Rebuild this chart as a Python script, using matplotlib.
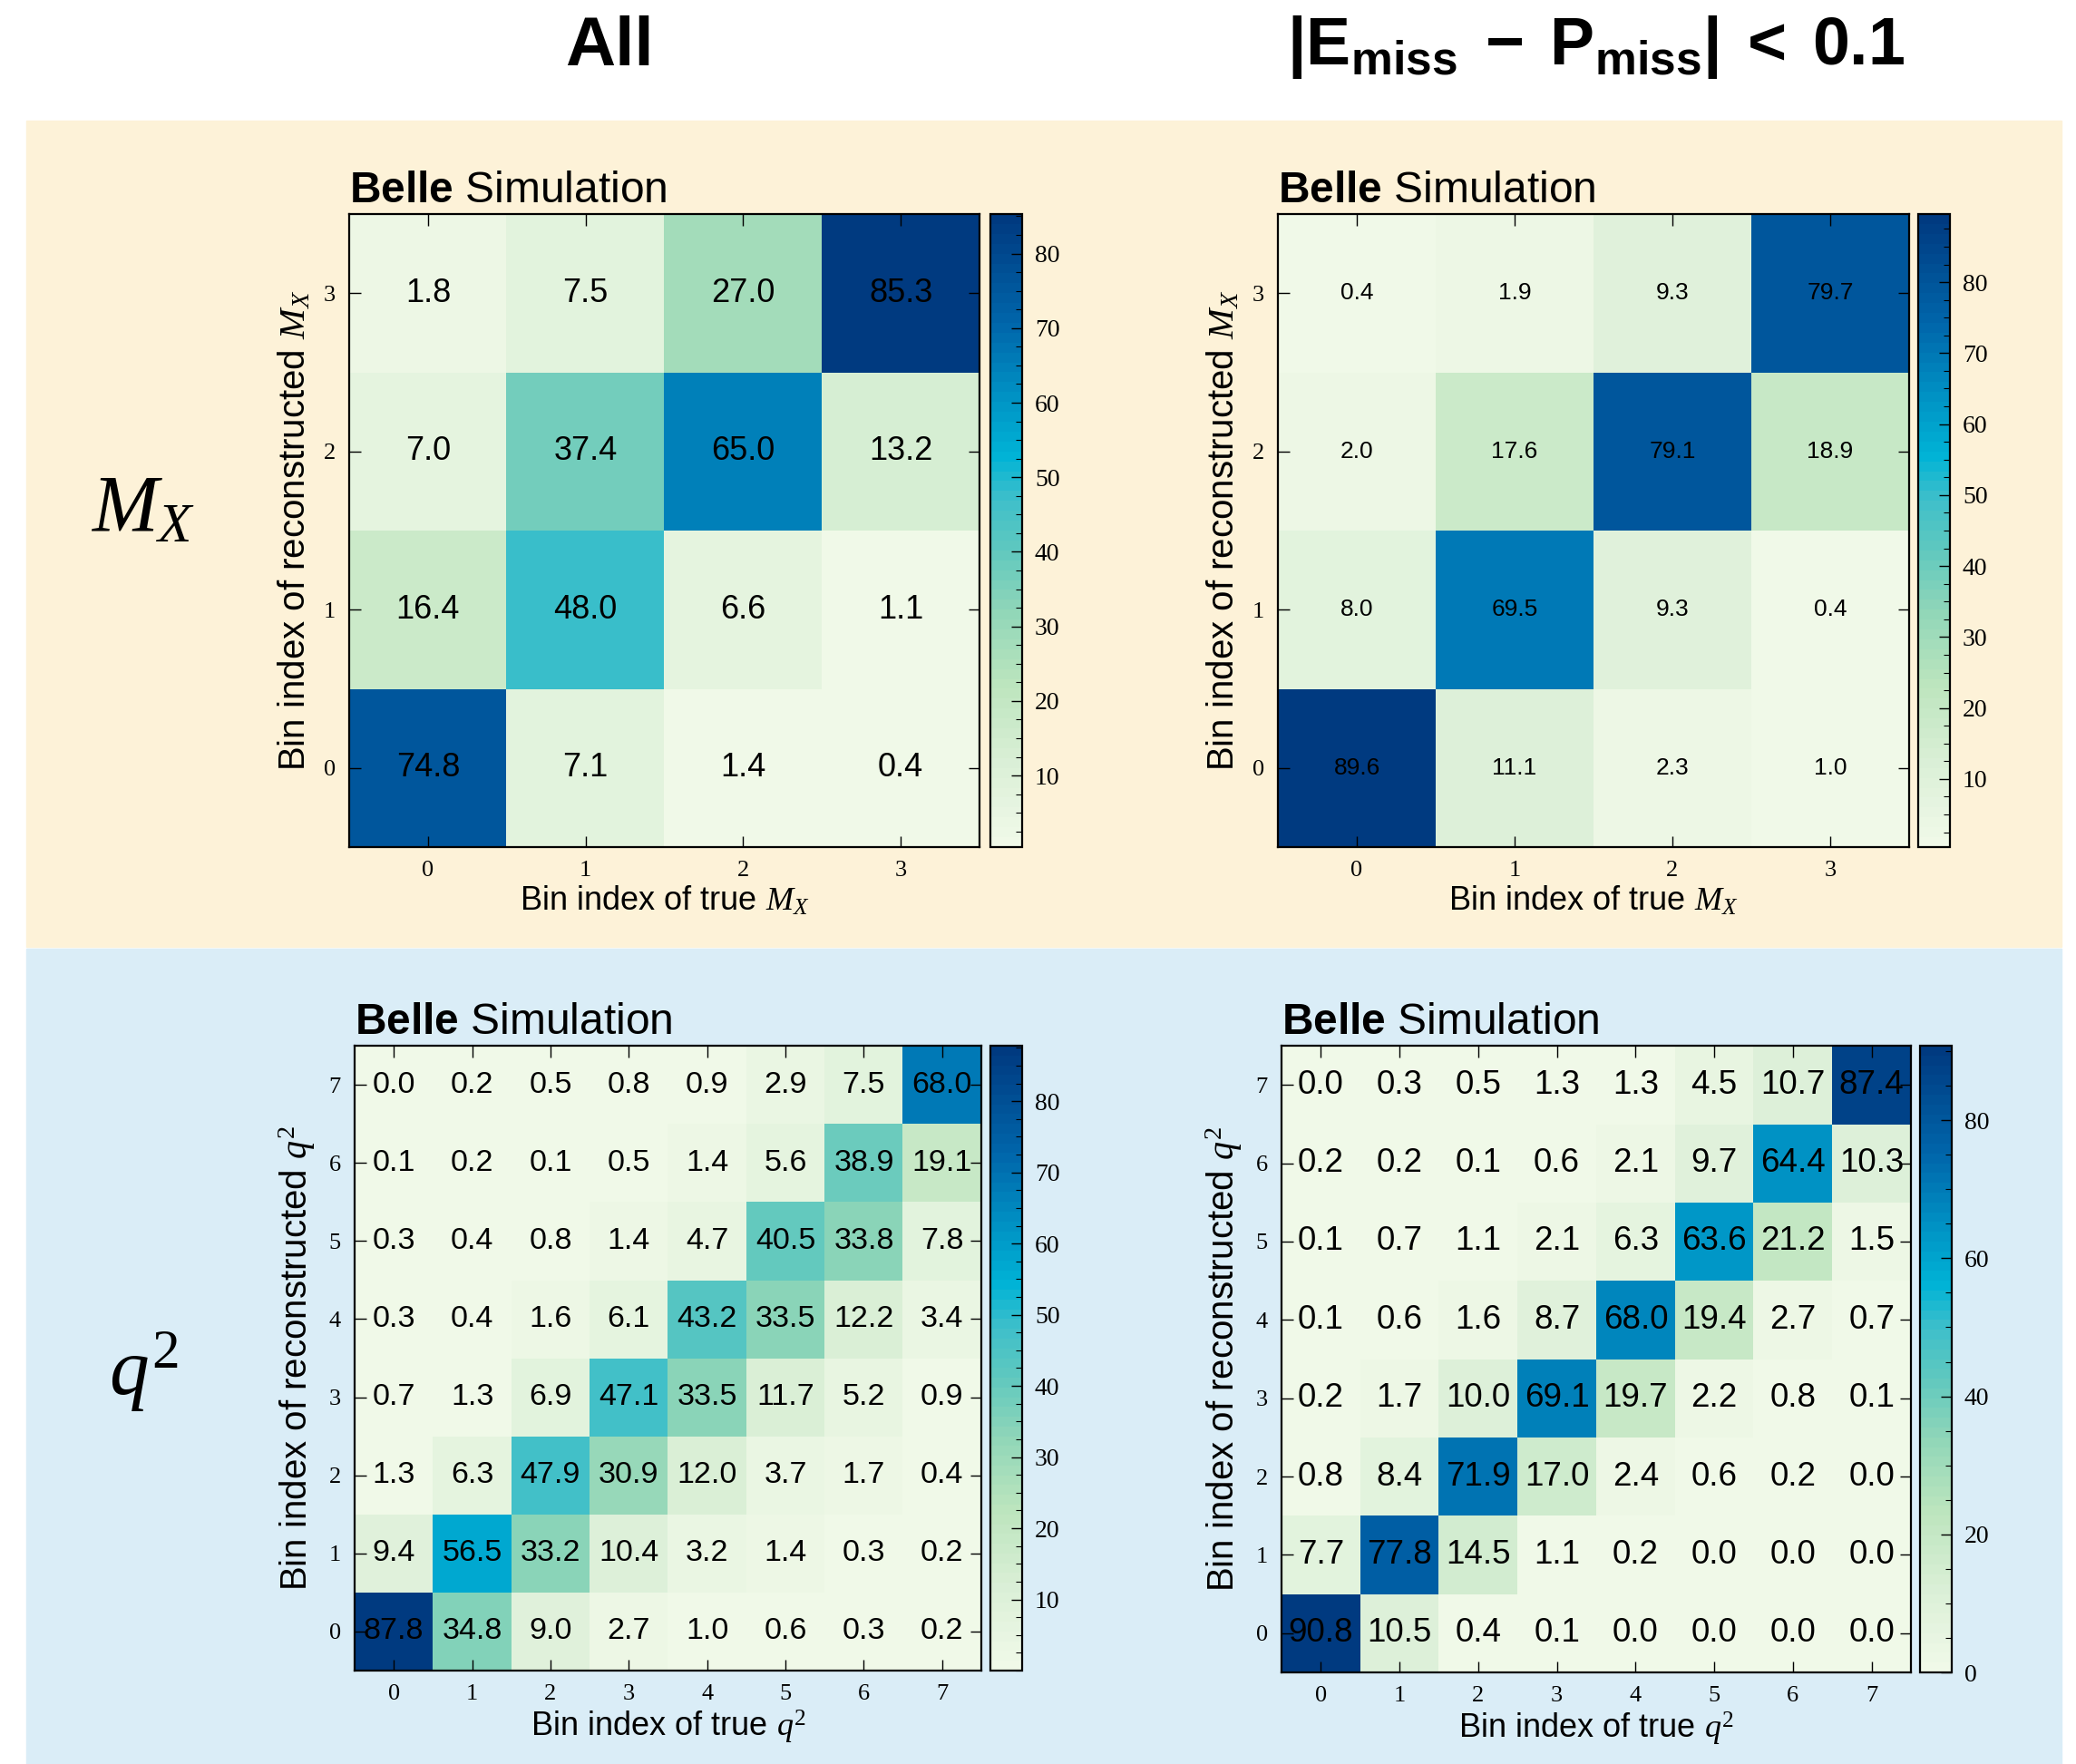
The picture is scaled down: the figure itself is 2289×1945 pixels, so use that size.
import matplotlib
matplotlib.use('Agg')
import matplotlib.pyplot as plt
from matplotlib.patches import Rectangle
from matplotlib.colors import LinearSegmentedColormap
from matplotlib.ticker import AutoMinorLocator
import numpy as np

plt.rcParams['font.family'] = 'Liberation Sans'
plt.rcParams['mathtext.fontset'] = 'custom'
plt.rcParams['mathtext.it'] = 'Liberation Serif:italic'
plt.rcParams['mathtext.rm'] = 'Liberation Serif'
plt.rcParams['mathtext.bf'] = 'Liberation Sans:bold'

# migration matrices in %, rows = reconstructed bin 0..n-1, cols = true bin 0..n-1
mx_all = np.array([
    [74.8, 7.1, 1.4, 0.4],
    [16.4, 48.0, 6.6, 1.1],
    [7.0, 37.4, 65.0, 13.2],
    [1.8, 7.5, 27.0, 85.3],
])
mx_cut = np.array([
    [89.6, 11.1, 2.3, 1.0],
    [8.0, 69.5, 9.3, 0.4],
    [2.0, 17.6, 79.1, 18.9],
    [0.4, 1.9, 9.3, 79.7],
])
q2_all = np.array([
    [87.8, 34.8, 9.0, 2.7, 1.0, 0.6, 0.3, 0.2],
    [9.4, 56.5, 33.2, 10.4, 3.2, 1.4, 0.3, 0.2],
    [1.3, 6.3, 47.9, 30.9, 12.0, 3.7, 1.7, 0.4],
    [0.7, 1.3, 6.9, 47.1, 33.5, 11.7, 5.2, 0.9],
    [0.3, 0.4, 1.6, 6.1, 43.2, 33.5, 12.2, 3.4],
    [0.3, 0.4, 0.8, 1.4, 4.7, 40.5, 33.8, 7.8],
    [0.1, 0.2, 0.1, 0.5, 1.4, 5.6, 38.9, 19.1],
    [0.0, 0.2, 0.5, 0.8, 0.9, 2.9, 7.5, 68.0],
])
q2_cut = np.array([
    [90.8, 10.5, 0.4, 0.1, 0.0, 0.0, 0.0, 0.0],
    [7.7, 77.8, 14.5, 1.1, 0.2, 0.0, 0.0, 0.0],
    [0.8, 8.4, 71.9, 17.0, 2.4, 0.6, 0.2, 0.0],
    [0.2, 1.7, 10.0, 69.1, 19.7, 2.2, 0.8, 0.1],
    [0.1, 0.6, 1.6, 8.7, 68.0, 19.4, 2.7, 0.7],
    [0.1, 0.7, 1.1, 2.1, 6.3, 63.6, 21.2, 1.5],
    [0.2, 0.2, 0.1, 0.6, 2.1, 9.7, 64.4, 10.3],
    [0.0, 0.3, 0.5, 1.3, 1.3, 4.5, 10.7, 87.4],
])

# a more saturated GnBu, like the one in the original plots
cmap = LinearSegmentedColormap.from_list('gnbu2', [
    (0.0, '#f0f9e8'), (0.12, '#dcf0d8'), (0.25, '#bde5be'), (0.37, '#90d6b8'),
    (0.47, '#5fc8bf'), (0.55, '#3ebfca'), (0.62, '#00b3d6'), (0.72, '#0090c3'),
    (0.83, '#0066ab'), (1.0, '#003a80')], N=64)

W, H = 2289, 1945
fig = plt.figure(figsize=(W/100, H/100), dpi=100)

def box(x0, y0, x1, y1):
    return [x0/W, 1-y1/H, (x1-x0)/W, (y1-y0)/H]

# coloured bands behind the rows
fig.patches.append(Rectangle((29/W, 1-1044/H), (2273-29)/W, (1044-133)/H,
                             transform=fig.transFigure, color='#fdf2d8', zorder=-5))
fig.patches.append(Rectangle((29/W, 0), (2273-29)/W, (1945-1046)/H,
                             transform=fig.transFigure, color='#daedf7', zorder=-5))

fig.text(672/W, 1-52/H, 'All', ha='center', va='center', fontsize=55, fontweight='bold')
fig.text(1760/W, 1-52/H, r'$\mathbf{|E_{miss}\ -\ P_{miss}|\ <\ 0.1}$',
         ha='center', va='center', fontsize=53)
fig.text(158/W, 1-562/H, r'$M_X$', ha='center', va='center', fontsize=63)
fig.text(158/W, 1-1511/H, r'$q^2$', ha='center', va='center', fontsize=63)


def draw(pos, cpos, m, var, fsize, cticks):
    ax = fig.add_axes(box(*pos))
    cax = fig.add_axes(box(*cpos))
    n = m.shape[0]
    im = ax.imshow(m, cmap=cmap, origin='lower', interpolation='nearest', aspect='auto')
    for i in range(n):
        for j in range(n):
            ax.text(j, i, '%.1f' % m[i, j], ha='center', va='center', fontsize=fsize)
    ax.set_xticks(range(n))
    ax.set_yticks(range(n))
    ax.tick_params(direction='in', top=True, right=True, length=9, width=1,
                   labelsize=19, pad=11, labelfontfamily='Liberation Serif')
    for s in ax.spines.values():
        s.set_linewidth(1.6)
    ax.set_xlabel('Bin index of true ' + var, fontsize=26, labelpad=3)
    ax.set_ylabel('Bin index of reconstructed ' + var, fontsize=29, labelpad=9)
    ax.text(0, 1.005, r'$\mathbf{Belle}$ Simulation', transform=ax.transAxes,
            fontsize=34.5, ha='left', va='bottom')
    cb = fig.colorbar(im, cax=cax, ticks=cticks)
    cb.ax.yaxis.set_minor_locator(AutoMinorLocator(4))
    cb.ax.tick_params(which='major', direction='in', length=9, width=1,
                      labelsize=20, pad=10, labelfontfamily='Liberation Serif')
    cb.ax.tick_params(which='minor', direction='in', length=5, width=0.8)
    cb.outline.set_linewidth(1.6)


draw((385, 236, 1080, 934), (1092, 236, 1127, 934), mx_all, r'$M_X$', 26, range(10, 90, 10))
draw((1409, 236, 2105, 934), (2115, 236, 2150, 934), mx_cut, r'$M_X$', 19, range(10, 90, 10))
draw((391, 1153, 1082, 1842), (1092, 1153, 1127, 1842), q2_all, r'$q^2$', 24.5, range(10, 90, 10))
draw((1413, 1153, 2107, 1844), (2117, 1153, 2152, 1844), q2_cut, r'$q^2$', 26.5, range(0, 100, 20))

fig.savefig('out.png', dpi=100)
